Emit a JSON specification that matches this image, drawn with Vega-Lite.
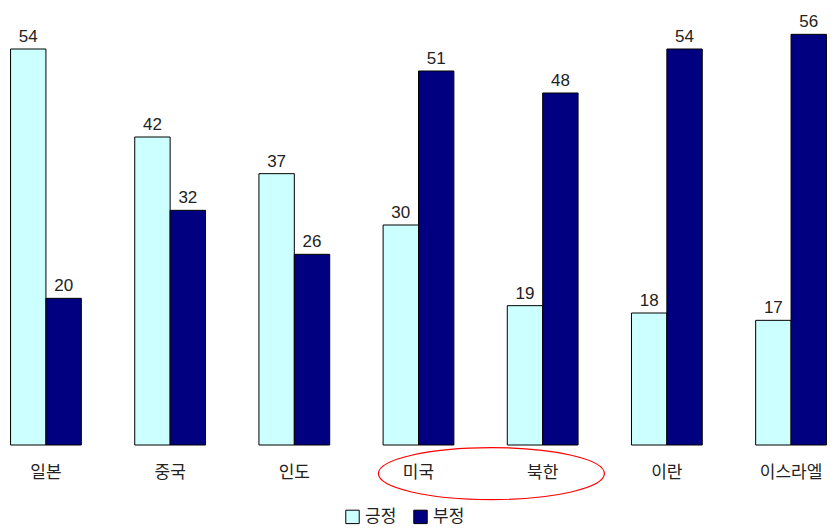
{
  "$schema": "https://vega.github.io/schema/vega-lite/v6.json",
  "width": 837,
  "height": 440,
  "autosize": {"type": "none"},
  "padding": {"left": 0, "top": 5, "right": 0, "bottom": 84},
  "background": "white",
  "config": {"view": {"stroke": null}},
  "datasets": {
    "bars": [
      {"국가": "일본", "응답": "긍정", "값": 54},
      {"국가": "일본", "응답": "부정", "값": 20},
      {"국가": "중국", "응답": "긍정", "값": 42},
      {"국가": "중국", "응답": "부정", "값": 32},
      {"국가": "인도", "응답": "긍정", "값": 37},
      {"국가": "인도", "응답": "부정", "값": 26},
      {"국가": "미국", "응답": "긍정", "값": 30},
      {"국가": "미국", "응답": "부정", "값": 51},
      {"국가": "북한", "응답": "긍정", "값": 19},
      {"국가": "북한", "응답": "부정", "값": 48},
      {"국가": "이란", "응답": "긍정", "값": 18},
      {"국가": "이란", "응답": "부정", "값": 54},
      {"국가": "이스라엘", "응답": "긍정", "값": 17},
      {"국가": "이스라엘", "응답": "부정", "값": 56}
    ],
    "mark": [
      {"국가": "미국", "값": -3.9}
    ]
  },
  "layer": [
    {
      "data": {"name": "bars"},
      "mark": {"type": "bar", "stroke": "black", "strokeWidth": 1},
      "encoding": {
        "x": {
          "field": "국가", "type": "nominal", "sort": null,
          "scale": {"paddingInner": 0.43, "paddingOuter": 0.085},
          "axis": {"title": null, "domain": false, "ticks": false, "labelAngle": 0,
                   "labelFont": "Noto Sans CJK KR", "labelFontSize": 17, "labelColor": "#222",
                   "labelPadding": 19}
        },
        "xOffset": {"field": "응답", "type": "nominal", "sort": ["긍정", "부정"]},
        "y": {"field": "값", "type": "quantitative", "scale": {"domain": [0, 60], "nice": false}, "axis": null},
        "color": {
          "field": "응답", "type": "nominal", "sort": ["긍정", "부정"],
          "scale": {"domain": ["긍정", "부정"], "range": ["#CCFFFF", "#000080"]},
          "legend": {"title": null, "orient": "none", "legendX": 344, "legendY": 503, "direction": "horizontal", "symbolType": "square",
                     "symbolStrokeColor": "black", "symbolStrokeWidth": 1, "symbolSize": 180,
                     "labelFont": "Noto Sans CJK KR", "labelFontSize": 17, "labelColor": "#222",
                     "columnPadding": 14, "labelOffset": 4}
        }
      }
    },
    {
      "data": {"name": "bars"},
      "mark": {"type": "text", "baseline": "bottom", "dy": -3, "font": "Liberation Sans", "fontSize": 17, "color": "#222"},
      "encoding": {
        "x": {"field": "국가", "type": "nominal", "sort": null},
        "xOffset": {"field": "응답", "type": "nominal", "sort": ["긍정", "부정"]},
        "y": {"field": "값", "type": "quantitative"},
        "text": {"field": "값", "type": "quantitative"}
      }
    },
    {
      "data": {"name": "mark"},
      "mark": {"type": "point", "shape": "M -1 0 A 1 0.23 0 1 0 1 0 A 1 0.23 0 1 0 -1 0 Z", "size": 51076, "filled": false, "stroke": "red", "strokeWidth": 1.2, "opacity": 1},
      "encoding": {
        "x": {"field": "국가", "type": "nominal", "sort": null, "bandPosition": 1.53},
        "y": {"field": "값", "type": "quantitative"}
      }
    }
  ]
}
